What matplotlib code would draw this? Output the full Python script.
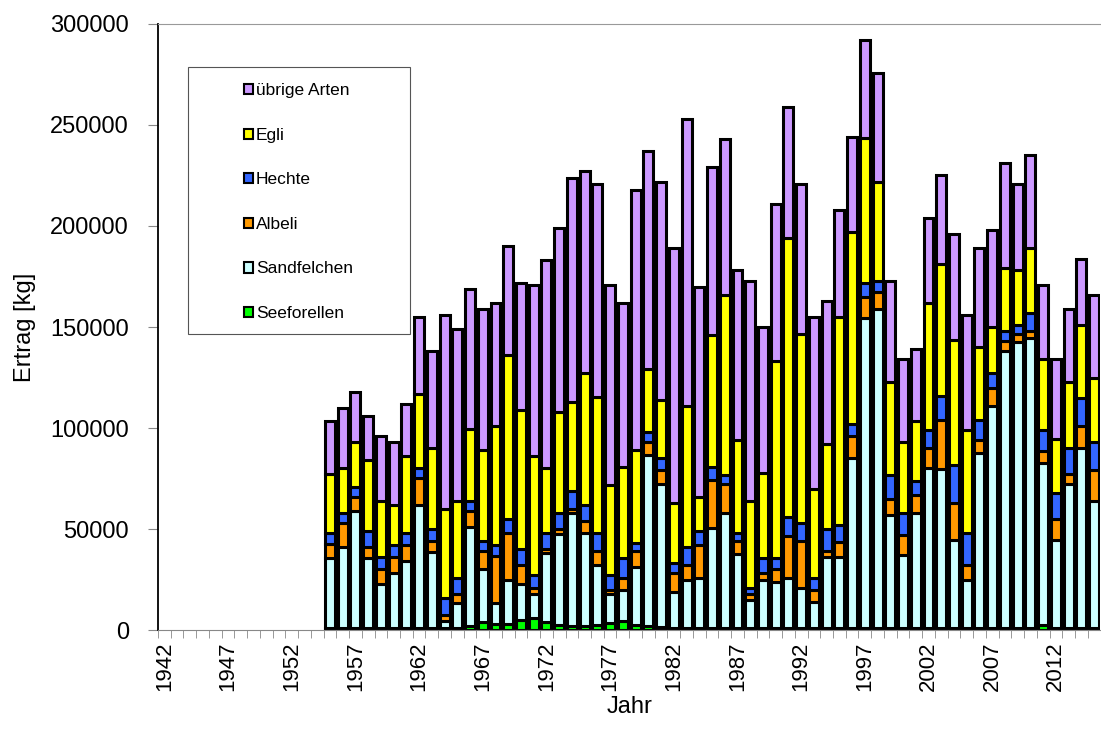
import matplotlib

matplotlib.use("Agg")

import matplotlib.pyplot as plt
import numpy as np
from matplotlib.patches import Patch, Rectangle

plt.rcParams["font.family"] = ["Liberation Sans", "DejaVu Sans"]

years = np.arange(1942, 2016)
data_years = np.arange(1955, 2016)

# stack tops (cumulative kg), 1955..2015
top_seeforellen = [
    1000, 1000, 1000, 1000, 1000, 1000, 1000, 1000, 1000, 1000, 1000,
    2000, 4000, 3000, 3000, 5000, 6000, 4000, 2500, 2000, 2000, 2500,
    3500, 4500, 2500, 2000, 1500, 1000, 1000, 1000, 1000, 1000, 1000,
    1000, 1000, 1000, 1000, 1000, 1000, 1000, 1000, 1000, 1000, 1000,
    1000, 1000, 1000, 1000, 1000, 1000, 1000, 1000, 1000, 1000, 1000,
    1000, 2500, 1000, 1000, 1000, 1000,
]
top_sandfelchen = [
    35500, 41000, 59000, 35500, 23000, 28000, 34000, 62000, 38600, 4500, 13600,
    51000, 30000, 13600, 25000, 23000, 18000, 38000, 47500, 58000, 48000, 32000,
    17700, 20000, 31000, 86700, 72500, 18700, 25000, 26000, 50500, 58000, 37600,
    15000, 25000, 24000, 26000, 21000, 14000, 36000, 36000, 85000, 154700, 159000,
    57000, 37000, 58000, 80000, 79600, 44700, 25000, 87700, 111000, 138000, 142500,
    144500, 82600, 44500, 72500, 90000, 64000,
]
top_albeli = [
    42600, 53000, 66000, 41000, 30000, 36000, 42000, 75500, 44000, 7500, 18000,
    59000, 39000, 36500, 48000, 32000, 21000, 40000, 50000, 60000, 54000, 39000,
    19700, 26000, 39000, 93000, 79000, 28000, 32000, 42000, 74500, 72500, 44000,
    17700, 28000, 30000, 46700, 44000, 20000, 39000, 43600, 96000, 165000, 167500,
    65000, 47000, 67000, 90000, 104000, 63000, 32000, 94000, 120000, 143000, 146600,
    148000, 88700, 55000, 77000, 101000, 79000,
]
top_hechte = [
    48000, 58000, 71000, 49000, 36000, 42000, 48000, 80000, 50000, 16000, 26000,
    64000, 44000, 42000, 55000, 40000, 27000, 48000, 58000, 69000, 62000, 48000,
    27000, 35500, 43000, 98000, 85000, 33000, 41000, 49000, 80600, 76500, 48000,
    20700, 35500, 35500, 56000, 53000, 26000, 50000, 52000, 102000, 172000, 173000,
    76500, 58000, 74000, 99000, 116000, 81600, 48000, 104000, 127000, 148000, 151000,
    157000, 98900, 68000, 90000, 115000, 93000,
]
top_egli = [
    77000, 80000, 93000, 84000, 64000, 62000, 86000, 117000, 90000, 60000, 64000,
    99500, 89000, 101000, 136000, 109000, 86000, 80000, 108000, 113000, 127000, 115500,
    72000, 80600, 89000, 129000, 114000, 63000, 111000, 66000, 146000, 166000, 94000,
    64000, 77500, 133000, 194000, 146600, 70000, 92000, 155000, 197000, 243600, 222000,
    123000, 93000, 103500, 162000, 181000, 143500, 99000, 140000, 150000, 179000, 178000,
    189000, 134000, 94400, 122600, 151000, 125000,
]
top_uebrige = [
    103500, 110000, 118000, 106000, 96000, 93000, 112000, 155000, 138000, 156000, 149000,
    169000, 159000, 162000, 190000, 172000, 171000, 183000, 199000, 224000, 227000, 221000,
    171000, 162000, 218000, 237000, 222000, 189000, 253000, 170000, 229000, 243000, 178000,
    173000, 150000, 211000, 259000, 221000, 155000, 163000, 208000, 244000, 292000, 275500,
    173000, 134000, 139000, 204000, 225000, 196000, 156000, 189000, 198000, 231000, 221000,
    235000, 171000, 134000, 159000, 183500, 166000,
]

labels = ["Seeforellen", "Sandfelchen", "Albeli", "Hechte", "Egli", "übrige Arten"]
colors = ["#00ff00", "#ccffff", "#ff9900", "#3366ff", "#ffff00", "#cc99ff"]
tops = [top_seeforellen, top_sandfelchen, top_albeli, top_hechte, top_egli, top_uebrige]

fig = plt.figure(figsize=(11.01, 7.40), dpi=100)
ax = fig.add_axes([0.1435, 0.1486, 0.856, 0.819])

x = data_years - years[0]
prev = np.zeros(len(data_years))
for lab, col, top in zip(labels, colors, tops):
    top = np.asarray(top, dtype=float)
    ax.bar(x, top - prev, bottom=prev, width=0.78, color=col,
           edgecolor="black", linewidth=2.2, label=lab)
    prev = top

ax.set_xlim(-0.5, len(years) - 0.5)
ax.set_ylim(0, 300000)
ax.set_yticks(np.arange(0, 300001, 50000))
ax.set_xticks(np.arange(len(years)) - 0.5, minor=True)
ax.set_xticks(np.arange(0, len(years), 5))
ax.set_xticklabels([str(y) for y in years[::5]], rotation=90)
ax.tick_params(axis="y", which="major", labelsize=17)
ax.tick_params(axis="x", which="major", labelsize=16, length=0, pad=8)
ax.tick_params(axis="x", which="minor", length=6, color="#888888")
ax.tick_params(axis="y", length=7, color="#888888", pad=14)
ax.set_ylabel("Ertrag [kg]", fontsize=17, labelpad=10)
ax.set_xlabel("Jahr", fontsize=17, labelpad=4)
ax.spines["top"].set_color("#999999")
ax.spines["bottom"].set_color("#888888")
ax.spines["left"].set_linewidth(1.3)
ax.spines["right"].set_visible(False)

# legend frame drawn separately, entries inside with big left inset
ax.add_patch(Rectangle((0.032, 0.488), 0.235, 0.441, transform=ax.transAxes,
                       facecolor="white", edgecolor="#555555", linewidth=0.8, zorder=3))
handles = [Patch(facecolor=c, edgecolor="black", linewidth=1.5) for c in colors]
leg = ax.legend(handles[::-1], labels[::-1], loc="upper left",
                bbox_to_anchor=(0.091, 0.902), frameon=False, fontsize=12.5,
                handlelength=0.55, handleheight=0.55, handletextpad=0.15,
                labelspacing=1.7, borderaxespad=0, borderpad=0)
leg.set_zorder(4)

fig.savefig("out.png", dpi=100)
